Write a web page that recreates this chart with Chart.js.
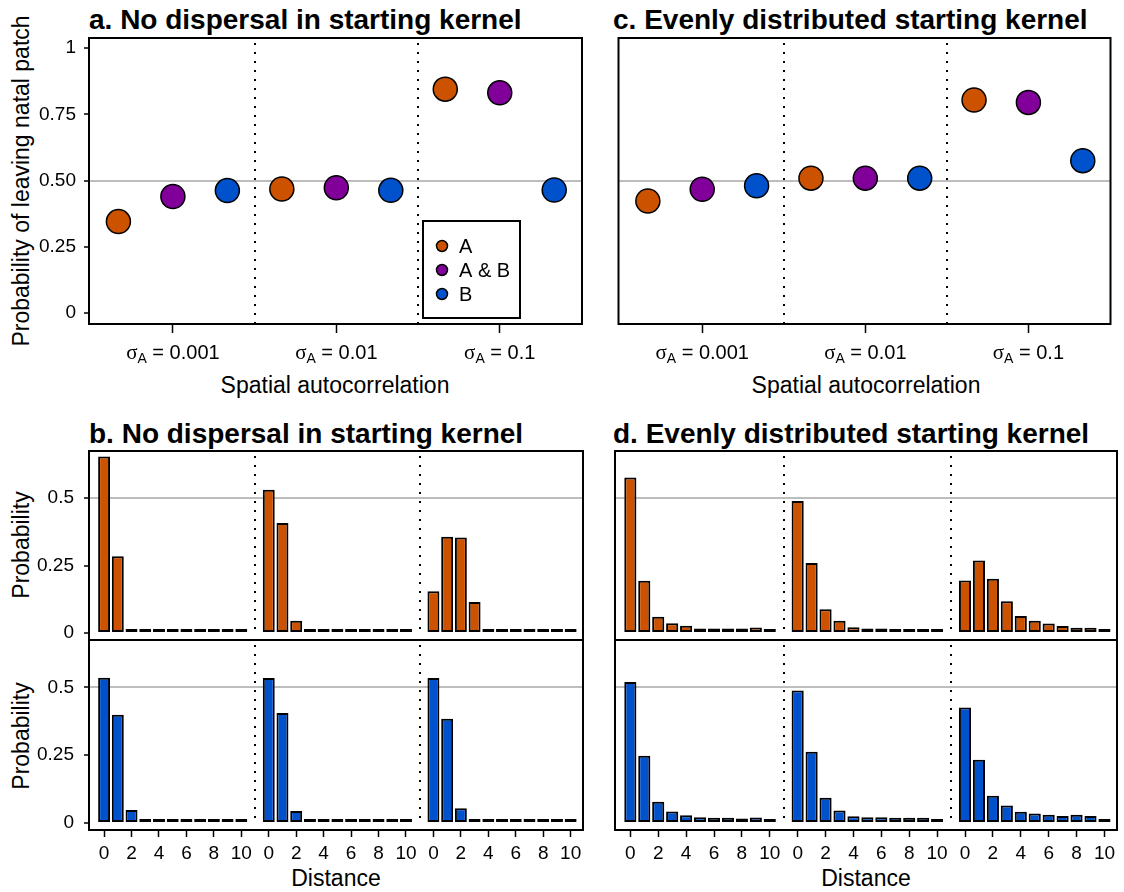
<!DOCTYPE html>
<html>
<head>
<meta charset="utf-8">
<script src="https://cdn.jsdelivr.net/npm/chart.js@4.4.0/dist/chart.umd.min.js"></script>
<style>
  body { margin: 0; background: #fff; width: 1124px; height: 892px; position: relative; overflow: hidden;
         font-family: "Liberation Sans", Arial, Helvetica, sans-serif; color: #000; }
  canvas { position: absolute; }
  .ttl { position: absolute; font-weight: bold; font-size: 28px; line-height: 28px; white-space: nowrap; }
  .lab { position: absolute; font-size: 23px; line-height: 23px; white-space: nowrap; transform: translate(-50%, -50%); }
  .rot { transform: translate(-50%, -50%) rotate(-90deg); }
</style>
</head>
<body>
<div class="ttl" style="left:89px;top:6px">a. No dispersal in starting kernel</div>
<div class="ttl" style="left:613px;top:6px">c. Evenly distributed starting kernel</div>
<div class="ttl" style="left:89px;top:420px">b. No dispersal in starting kernel</div>
<div class="ttl" style="left:613px;top:420px">d. Evenly distributed starting kernel</div>

<div class="lab rot" style="left:21px;top:181px">Probability of leaving natal patch</div>
<div class="lab" style="left:335px;top:385px">Spatial autocorrelation</div>
<div class="lab" style="left:866px;top:385px">Spatial autocorrelation</div>
<div class="lab rot" style="left:21px;top:545px">Probability</div>
<div class="lab rot" style="left:21px;top:736px">Probability</div>
<div class="lab" style="left:336px;top:878px">Distance</div>
<div class="lab" style="left:866px;top:878px">Distance</div>

<canvas id="cA"></canvas>
<canvas id="cC"></canvas>
<canvas id="cB1"></canvas>
<canvas id="cB2"></canvas>
<canvas id="cD1"></canvas>
<canvas id="cD2"></canvas>

<script>
// ---- data ----
const sigmaLevels = ['0.001', '0.01', '0.1'];
const seriesNames = ['A', 'A & B', 'B'];
const seriesColors = ['#cc5200', '#800099', '#0052cc'];

// probability of leaving the natal patch, one value per sigma_A level
const leaveNoDispA = [0.345, 0.468, 0.845];
const leaveNoDispAB = [0.440, 0.473, 0.831];
const leaveNoDispB = [0.462, 0.463, 0.464];
const leaveEvenA = [0.423, 0.509, 0.804];
const leaveEvenAB = [0.467, 0.509, 0.795];
const leaveEvenB = [0.480, 0.509, 0.575];

// dispersal kernels, distance 0..10, one row per sigma_A level
const distances = [0, 1, 2, 3, 4, 5, 6, 7, 8, 9, 10];
const distanceTicks = [0, 2, 4, 6, 8, 10];
const kernelNoDispA = [
  [0.655, 0.285, 0.014, 0.002, 0.002, 0.002, 0.003, 0.006, 0.007, 0.012, 0.012],
  [0.531, 0.408, 0.045, 0.004, 0.002, 0.002, 0.002, 0.002, 0.003, 0.002, 0.004],
  [0.155, 0.357, 0.354, 0.115, 0.014, 0.004, 0.002, 0.002, 0.002, 0.002, 0.002]
];
const kernelNoDispB = [
  [0.536, 0.399, 0.048, 0.007, 0.002, 0.002, 0.002, 0.002, 0.002, 0.002, 0.002],
  [0.535, 0.406, 0.044, 0.003, 0.002, 0.002, 0.002, 0.002, 0.003, 0.002, 0.004],
  [0.535, 0.384, 0.054, 0.012, 0.003, 0.002, 0.002, 0.002, 0.002, 0.002, 0.004]
];
const kernelEvenA = [
  [0.577, 0.194, 0.060, 0.036, 0.027, 0.017, 0.017, 0.017, 0.017, 0.020, 0.003],
  [0.490, 0.260, 0.088, 0.045, 0.021, 0.017, 0.017, 0.015, 0.015, 0.014, 0.003],
  [0.195, 0.269, 0.201, 0.118, 0.063, 0.045, 0.035, 0.026, 0.019, 0.019, 0.003]
];
const kernelEvenB = [
  [0.520, 0.248, 0.078, 0.042, 0.028, 0.021, 0.019, 0.019, 0.016, 0.020, 0.003],
  [0.489, 0.263, 0.093, 0.046, 0.025, 0.021, 0.021, 0.019, 0.019, 0.019, 0.003],
  [0.426, 0.233, 0.100, 0.064, 0.041, 0.035, 0.030, 0.026, 0.030, 0.026, 0.003]
];

// ---- helpers ----
const FONT = '"Liberation Sans", Arial, Helvetica, sans-serif';
Chart.defaults.font.family = FONT;
Chart.defaults.color = '#000';

// frame, dotted group dividers, sigma labels and legend
const framePlugin = {
  id: 'frame',
  beforeDatasetsDraw(chart, args, opts) {
    const { ctx, chartArea: a, scales } = chart;
    ctx.save();
    ctx.strokeStyle = '#000';
    ctx.lineWidth = 2;
    ctx.setLineDash([2, 7]);
    const bottom = opts.divToZero ? scales.y.getPixelForValue(0) : a.bottom;
    (opts.dividers || []).forEach(v => {
      const x = Math.round(scales.x.getPixelForValue(v));
      ctx.beginPath();
      ctx.moveTo(x, a.top + 5);
      ctx.lineTo(x, bottom);
      ctx.stroke();
    });
    ctx.restore();
  },
  afterDraw(chart, args, opts) {
    const { ctx, chartArea: a, scales } = chart;
    ctx.save();
    ctx.strokeStyle = '#000';
    ctx.lineWidth = 2;
    ctx.strokeRect(a.left, a.top, a.right - a.left, a.bottom - a.top);

    if (opts.sigma) {
      sigmaLevels.forEach((lv, g) => {
        const cx = scales.x.getPixelForValue(2 + 3 * g);
        const y = a.bottom + 35;
        ctx.font = '21px "Liberation Serif", "DejaVu Serif", serif';
        const w1 = ctx.measureText('σ').width;
        ctx.font = '14px ' + FONT;
        const w2 = ctx.measureText('A').width;
        ctx.font = '20px ' + FONT;
        const rest = ' = ' + lv;
        const w3 = ctx.measureText(rest).width;
        let x = cx - (w1 + w2 + w3) / 2;
        ctx.fillStyle = '#000';
        ctx.textBaseline = 'alphabetic';
        ctx.textAlign = 'left';
        ctx.font = '21px "Liberation Serif", "DejaVu Serif", serif';
        ctx.fillText('σ', x, y);
        x += w1;
        ctx.font = '14px ' + FONT;
        ctx.fillText('A', x, y + 4);
        x += w2;
        ctx.font = '20px ' + FONT;
        ctx.fillText(rest, x, y);
      });
    }

    if (opts.legend) {
      const lx = a.left + 334, ly = a.top + 183;
      ctx.lineWidth = 2;
      ctx.fillStyle = '#fff';
      ctx.fillRect(lx, ly, 97, 97);
      ctx.strokeRect(lx, ly, 97, 97);
      chart.data.datasets.forEach((ds, i) => {
        const cy = ly + 25 + i * 24;
        ctx.beginPath();
        ctx.arc(lx + 19, cy, 5.5, 0, Math.PI * 2);
        ctx.fillStyle = ds.backgroundColor;
        ctx.fill();
        ctx.lineWidth = 1.5;
        ctx.stroke();
        ctx.fillStyle = '#000';
        ctx.font = '20px ' + FONT;
        ctx.textBaseline = 'middle';
        ctx.textAlign = 'left';
        ctx.fillText(ds.label, lx + 36, cy + 1);
      });
    }
    ctx.restore();
  }
};

function mount(id, box, ext) {
  const cv = document.getElementById(id);
  cv.style.left = (box[0] - ext[0]) + 'px';
  cv.style.top = (box[1] - ext[1]) + 'px';
  cv.width = box[2] - box[0] + ext[0] + ext[2];
  cv.height = box[3] - box[1] + ext[1] + ext[3];
  return cv.getContext('2d');
}

function gridHalf(ctx) {
  return ctx.tick && Math.abs(ctx.tick.value - 0.5) < 1e-9 ? '#bdbdbd' : 'rgba(0,0,0,0)';
}

function scatterChart(id, box, ext, values, showY) {
  const ctx = mount(id, box, ext);
  const datasets = values.map((vals, k) => ({
    label: seriesNames[k],
    data: vals.map((v, g) => ({ x: g * 3 + k + 1, y: v })),
    backgroundColor: seriesColors[k],
    borderColor: '#000',
    borderWidth: 1.5,
    pointRadius: 12,
    pointHoverRadius: 12
  }));
  return new Chart(ctx, {
    type: 'scatter',
    data: { datasets },
    plugins: [framePlugin],
    options: {
      responsive: false,
      animation: false,
      devicePixelRatio: 1,
      layout: { padding: { left: 0, top: ext[1], right: ext[2], bottom: 0 } },
      plugins: {
        legend: { display: false },
        tooltip: { enabled: false },
        frame: { dividers: [3.5, 6.5], sigma: true, legend: showY }
      },
      scales: {
        x: {
          type: 'linear', min: 0.46, max: 9.51,
          afterBuildTicks: s => { s.ticks = [2, 5, 8].map(v => ({ value: v })); },
          afterFit: s => { s.height = ext[3]; },
          border: { display: false },
          grid: { drawOnChartArea: false, tickLength: 9, tickColor: '#000', tickWidth: 1.5 },
          ticks: { callback: () => '', autoSkip: false, maxRotation: 0 }
        },
        y: {
          min: -0.0415, max: 1.038,
          afterBuildTicks: s => { s.ticks = [0, 0.25, 0.5, 0.75, 1].map(v => ({ value: v })); },
          afterFit: s => { s.width = ext[0]; },
          border: { display: false },
          grid: { color: gridHalf, lineWidth: 2, drawTicks: showY, tickLength: 5, tickColor: '#000', tickWidth: 1.5 },
          ticks: {
            display: showY, padding: 8, font: { size: 19 },
            callback: v => (v === 0 || v === 1) ? String(v) : v.toFixed(2)
          }
        }
      }
    }
  });
}

function barChart(id, box, ext, groups, color, showY, showX) {
  const ctx = mount(id, box, ext);
  const data = [];
  groups.forEach((vals, g) => vals.forEach((v, i) => data.push({ x: g * 12 + distances[i], y: v })));
  const tickPos = [];
  sigmaLevels.forEach((lv, g) => distanceTicks.forEach(d => tickPos.push(g * 12 + d)));
  return new Chart(ctx, {
    type: 'bar',
    data: {
      datasets: [{
        data,
        backgroundColor: color,
        borderColor: '#000',
        borderWidth: 2,
        borderSkipped: false,
        barPercentage: 0.87,
        categoryPercentage: 1,
        minBarLength: 4
      }]
    },
    plugins: [framePlugin],
    options: {
      responsive: false,
      animation: false,
      devicePixelRatio: 1,
      layout: { padding: { left: 0, top: ext[1], right: ext[2], bottom: 0 } },
      plugins: {
        legend: { display: false },
        tooltip: { enabled: false },
        frame: { dividers: [11, 23], divToZero: true }
      },
      scales: {
        x: {
          type: 'linear', min: -1.1, max: 34.9, offset: false,
          afterBuildTicks: s => { s.ticks = tickPos.map(v => ({ value: v })); },
          afterFit: s => { s.height = ext[3]; },
          border: { display: false },
          grid: { offset: false, drawOnChartArea: false, drawTicks: showX, tickLength: 7, tickColor: '#000', tickWidth: 1.5 },
          ticks: {
            display: showX, autoSkip: false, maxRotation: 0, padding: 5, font: { size: 19 },
            callback: v => String(v % 12)
          }
        },
        y: {
          min: -0.026, max: 0.675,
          afterBuildTicks: s => { s.ticks = [0, 0.25, 0.5].map(v => ({ value: v })); },
          afterFit: s => { s.width = ext[0]; },
          border: { display: false },
          grid: { color: gridHalf, lineWidth: 2, drawTicks: showY, tickLength: 5, tickColor: '#000', tickWidth: 1.5 },
          ticks: { display: showY, padding: 10, font: { size: 19 }, callback: v => String(v) }
        }
      }
    }
  });
}

// ---- panels ----
scatterChart('cA', [89, 38, 582, 324], [89, 26, 18, 70], [leaveNoDispA, leaveNoDispAB, leaveNoDispB], true);
scatterChart('cC', [615, 38, 1117, 324], [10, 26, 7, 70], [leaveEvenA, leaveEvenAB, leaveEvenB], false);

barChart('cB1', [89, 451, 583, 640], [89, 28, 18, 28], kernelNoDispA, seriesColors[0], true, false);
barChart('cB2', [89, 640, 583, 830], [89, 28, 18, 48], kernelNoDispB, seriesColors[2], true, true);
barChart('cD1', [615, 451, 1117, 640], [10, 28, 7, 28], kernelEvenA, seriesColors[0], false, false);
barChart('cD2', [615, 640, 1117, 830], [10, 28, 7, 48], kernelEvenB, seriesColors[2], false, true);
</script>
</body>
</html>
